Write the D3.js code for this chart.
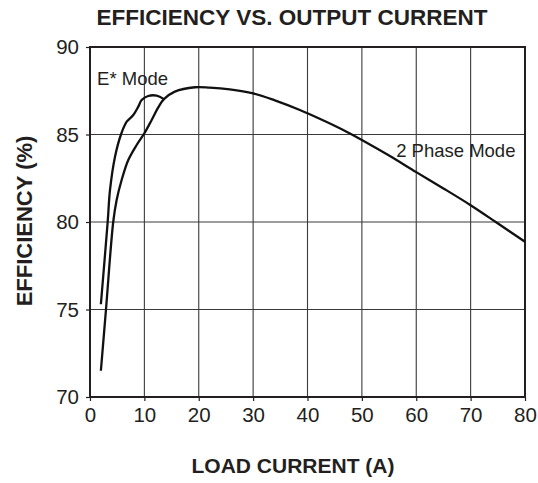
<!DOCTYPE html>
<html>
<head>
<meta charset="utf-8">
<script src="https://cdn.jsdelivr.net/npm/d3@7"></script>
<style>
  body { margin: 0; background: #fff; }
  text { font-family: "Liberation Sans", Arial, Helvetica, sans-serif; fill: #231f20; }
</style>
</head>
<body>
<div id="chart"></div>
<script>
// load current (A) vs efficiency (%)
var twoPhaseX = [2, 2.94, 4.27, 4.9, 5.82, 7.04, 8.58, 10.0, 11.34, 12.55, 13.6, 15.6, 19.3, 22, 25.7, 30, 34, 38.6, 40, 44.7, 47.8, 50, 55, 60, 65, 70, 74.76, 80];
var twoPhaseY = [71.5, 75, 80, 81.26, 82.4, 83.54, 84.4, 85.07, 85.83, 86.55, 87.02, 87.45, 87.7, 87.68, 87.58, 87.35, 86.95, 86.4, 86.21, 85.54, 85.06, 84.69, 83.8, 82.85, 81.92, 80.96, 79.97, 78.87];

var eModeX = [2, 3.25, 3.68, 4.6, 5.7, 6.75, 7.96, 8.88, 9.5, 10.7, 12.26, 13.6];
var eModeY = [75.3, 80, 81.83, 83.73, 85.0, 85.73, 86.11, 86.59, 86.97, 87.2, 87.22, 87.02];

var xTicks = [0, 10, 20, 30, 40, 50, 60, 70, 80];
var yTicks = [70, 75, 80, 85, 90];

var labels = [
  {text: "E* Mode", x: 1.3, y: 87.83},
  {text: "2 Phase Mode", x: 56.3, y: 83.73}
];

var width = 538, height = 483;
var margin = {top: 47, right: 13, bottom: 86, left: 90};

var svg = d3.select("#chart")
  .append("svg")
  .attr("width", width)
  .attr("height", height);

var x = d3.scaleLinear().domain([0, 80]).range([margin.left, width - margin.right]);
var y = d3.scaleLinear().domain([70, 90]).range([height - margin.bottom, margin.top]);

// grid
svg.append("g")
  .selectAll("line")
  .data(xTicks)
  .enter().append("line")
    .attr("x1", d => x(d)).attr("x2", d => x(d))
    .attr("y1", y(90)).attr("y2", y(70))
    .attr("stroke", "#3a3a3a")
    .attr("stroke-width", 1.1);

svg.append("g")
  .selectAll("line")
  .data(yTicks)
  .enter().append("line")
    .attr("x1", x(0)).attr("x2", x(80))
    .attr("y1", d => y(d)).attr("y2", d => y(d))
    .attr("stroke", "#3a3a3a")
    .attr("stroke-width", 1.1);

// axes
var xAxis = svg.append("g")
  .attr("transform", "translate(0," + y(70) + ")")
  .call(d3.axisBottom(x).tickValues(xTicks).tickSize(4).tickPadding(6));

var yAxis = svg.append("g")
  .attr("transform", "translate(" + x(0) + ",0)")
  .call(d3.axisLeft(y).tickValues(yTicks).tickSize(4).tickPadding(7));

[xAxis, yAxis].forEach(function(a) {
  a.select(".domain").remove();
  a.selectAll(".tick line").attr("stroke", "#231f20").attr("stroke-width", 1.2);
  a.selectAll(".tick text")
    .style("font-family", "'Liberation Sans', Arial, sans-serif")
    .style("font-size", "20.5px")
    .attr("fill", "#231f20");
});

// frame
svg.append("rect")
  .attr("x", x(0)).attr("y", y(90))
  .attr("width", x(80) - x(0))
  .attr("height", y(70) - y(90))
  .attr("fill", "none")
  .attr("stroke", "#231f20")
  .attr("stroke-width", 2);

// curves
var line = d3.line()
  .x(d => x(d[0]))
  .y(d => y(d[1]))
  .curve(d3.curveCatmullRom.alpha(0.5));

svg.append("path")
  .datum(twoPhaseX.map((v, i) => [v, twoPhaseY[i]]))
  .attr("d", line)
  .attr("fill", "none")
  .attr("stroke", "#111")
  .attr("stroke-width", 2.3);

svg.append("path")
  .datum(eModeX.map((v, i) => [v, eModeY[i]]))
  .attr("d", line)
  .attr("fill", "none")
  .attr("stroke", "#111")
  .attr("stroke-width", 2.3);

// annotations
svg.append("g")
  .selectAll("text")
  .data(labels)
  .enter().append("text")
    .attr("x", d => x(d.x))
    .attr("y", d => y(d.y))
    .style("font-size", "18.5px")
    .text(d => d.text);

// titles
svg.append("text")
  .attr("x", 292)
  .attr("y", 25)
  .attr("text-anchor", "middle")
  .style("font-size", "22.5px")
  .style("font-weight", "bold")
  .text("EFFICIENCY VS. OUTPUT CURRENT");

svg.append("text")
  .attr("x", 293)
  .attr("y", 473)
  .attr("text-anchor", "middle")
  .style("font-size", "21px")
  .style("font-weight", "bold")
  .text("LOAD CURRENT (A)");

svg.append("text")
  .attr("transform", "translate(32,221) rotate(-90)")
  .attr("text-anchor", "middle")
  .style("font-size", "22px")
  .style("font-weight", "bold")
  .text("EFFICIENCY (%)");
</script>
</body>
</html>
